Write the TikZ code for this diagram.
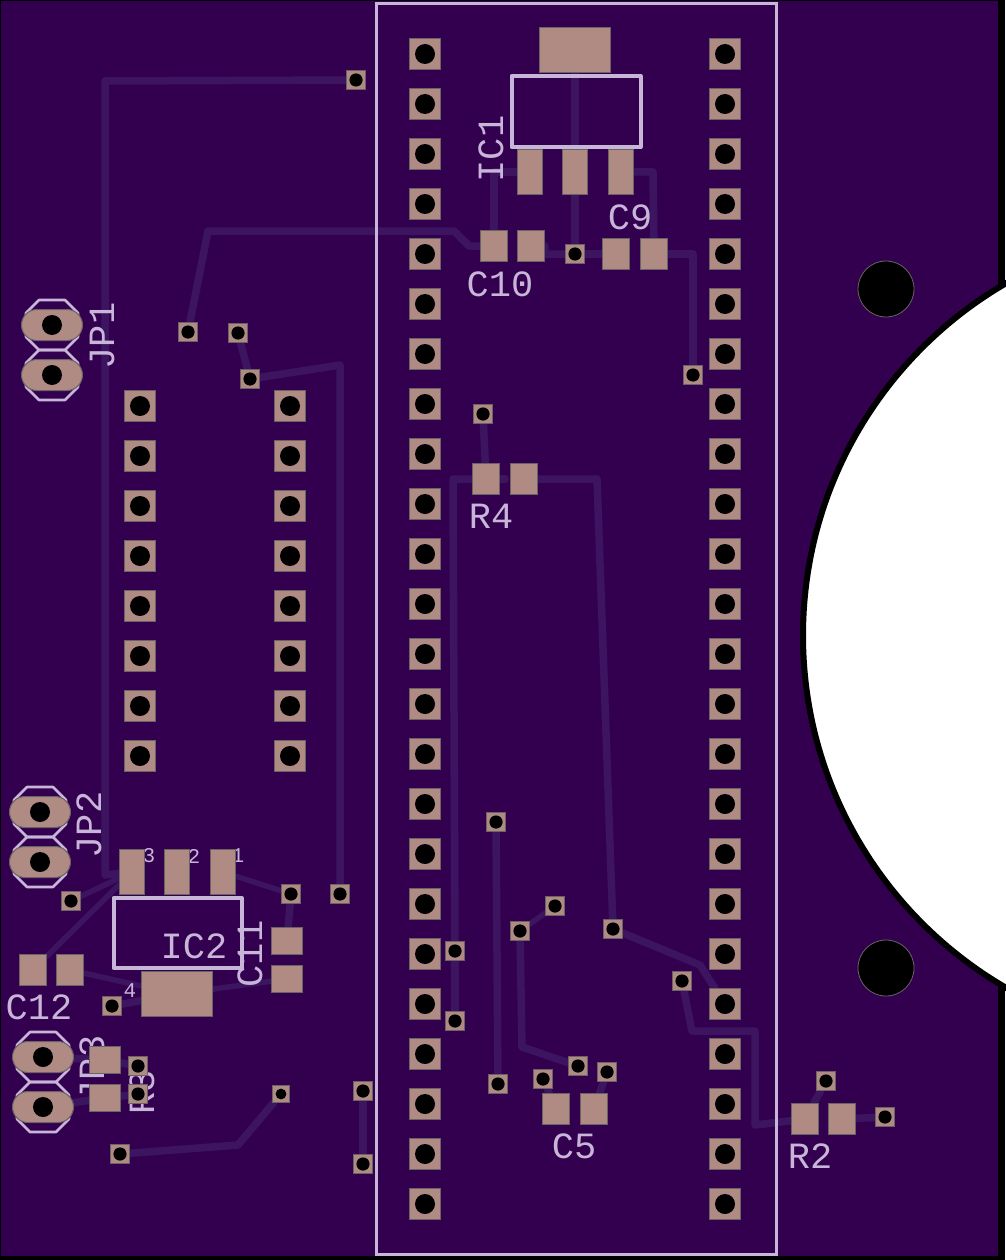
\documentclass[tikz,border=0pt]{standalone}
\usepackage{fontspec}
\setmonofont{Liberation Mono}
\usetikzlibrary{backgrounds, shapes.misc}
\definecolor{boardcol}{RGB}{51,0,80}
\definecolor{trackcol}{RGB}{60,20,96}
\definecolor{padcol}{RGB}{175,139,131}
\definecolor{edgecol}{RGB}{105,100,100}
\definecolor{silkcol}{RGB}{200,182,216}
\tikzstyle{thpad} = [rectangle, draw=edgecol, line width=1pt, fill=padcol, minimum size=31pt, inner sep=0, path picture={\fill[black] (path picture bounding box.center) circle (10);}]
\tikzstyle{via} = [rectangle, draw=edgecol, line width=1pt, fill=padcol, minimum size=19pt, inner sep=0, path picture={\fill[black] (path picture bounding box.center) circle (6.6);}]
\tikzstyle{smallvia} = [via, minimum size=17pt, path picture={\fill[black] (path picture bounding box.center) circle (5.4);}]
\tikzstyle{longpad} = [rounded rectangle, draw=edgecol, line width=1pt, fill=padcol, minimum width=61pt, minimum height=31pt, inner sep=0, path picture={\fill[black] (path picture bounding box.center) circle (10);}]
\tikzstyle{smd} = [rectangle, draw=edgecol, line width=1pt, fill=padcol, inner sep=0]
\tikzstyle{chipv} = [smd, minimum width=27pt, minimum height=31pt]
\tikzstyle{chiph} = [smd, minimum width=31pt, minimum height=27pt]
\tikzstyle{leg} = [smd, minimum width=25.5pt, minimum height=45pt]
\tikzstyle{tab} = [smd, minimum width=71pt, minimum height=45pt]
\tikzstyle{track} = [trackcol, line width=7.5pt, line cap=round, line join=round]
\tikzstyle{thintrack} = [track, line width=5.5pt]
\tikzstyle{silkline} = [silkcol, line width=2.6pt, line join=round]
\tikzstyle{silkbox} = [silkcol, line width=4pt, line join=round]
\tikzstyle{lbl} = [text=silkcol, inner sep=0, font=\ttfamily\fontsize{37}{37}\selectfont]
\tikzstyle{pinlbl} = [text=silkcol, inner sep=0, font=\ttfamily\fontsize{21}{21}\selectfont]
\tikzstyle{mounthole} = [circle, draw=edgecol, line width=0.8pt, fill=black, minimum size=56pt, inner sep=0]

\begin{document}
\begin{tikzpicture}[x=1pt, y=-1pt]
	\useasboundingbox (0,0) rectangle (1005,1260);

	\foreach \i in {1,...,24} {
		\node (hl\i) [thpad] at (425,4+50*\i) {};
		\node (hr\i) [thpad] at (725,4+50*\i) {};
	}
	\foreach \i in {1,...,8} {
		\node (dl\i) [thpad] at (140,356+50*\i) {};
		\node (dr\i) [thpad] at (290,356+50*\i) {};
	}
	\foreach \n/\x/\y in {va/356/80, vb/188/332, vc/238/333, vd/250/379, ve/693/375, vf/483/414, vg/575/254, vh/71/901, vi/291/894, vj/340/894, vk/112/1006, vl/138/1066, vm/138/1094, vn/120/1154, vo/363/1091, vp/363/1164, vq/555/906, vr/520/931, vs/613/929, vt/682/981, vu/578/1066, vv/543/1079, vw/607/1072, vx/498/1084, vy/826/1081, vz/885/1117, vaa/496/822, vab/455/951, vac/455/1021}
		\node (\n) [via] at (\x,\y) {};
	\node (vad) [smallvia] at (281,1094) {};

	\node (ic1_tab) [tab] at (575,50) {};
	\node (ic1_a) [leg] at (530,172) {};
	\node (ic1_b) [leg] at (575,172) {};
	\node (ic1_c) [leg] at (621,172) {};
	\node (ic2_tab) [tab] at (177,994) {};
	\node (ic2_a) [leg] at (132,872) {};
	\node (ic2_b) [leg] at (177,872) {};
	\node (ic2_c) [leg] at (223,872) {};
	\node (c10_a) [chipv] at (494,246) {};
	\node (c10_b) [chipv] at (531,246) {};
	\node (c9_a) [chipv] at (616,254) {};
	\node (c9_b) [chipv] at (654,254) {};
	\node (r4_a) [chipv] at (486,479) {};
	\node (r4_b) [chipv] at (524,479) {};
	\node (c12_a) [chipv] at (33,970) {};
	\node (c12_b) [chipv] at (70,970) {};
	\node (c5_a) [chipv] at (556,1109) {};
	\node (c5_b) [chipv] at (594,1109) {};
	\node (r2_a) [chipv] at (805,1119) {};
	\node (r2_b) [chipv] at (842,1119) {};
	\node (c11_a) [chiph] at (287,941) {};
	\node (c11_b) [chiph] at (287,979) {};
	\node (r3_a) [chiph] at (105,1060) {};
	\node (r3_b) [chiph] at (105,1098) {};

	\node (jp1_a) [longpad] at (52,325) {};
	\node (jp1_b) [longpad] at (52,375) {};
	\node (jp2_a) [longpad] at (40,812) {};
	\node (jp2_b) [longpad] at (40,862) {};
	\node (jp3_a) [longpad] at (43,1057) {};
	\node (jp3_b) [longpad] at (43,1107) {};

	\node (hole_top) [mounthole] at (886,289) {};
	\node (hole_bot) [mounthole] at (886,968) {};

	\coordinate (r4_stub) at (505,479);

	\begin{scope}[on background layer]
		\fill[black] (0,0) rectangle (1005,1260);
		\fill[boardcol] (1,1) rectangle (998,1256);
		\draw[black, fill=white, line width=6pt] (1210,635.5) circle (407);

		\draw[track] (va) -- (105,81) -- (105,875) -- (ic2_a);
		\draw[track] (vb) -- (208,231) -- (454,231) -- (469,246) -- (c10_a);
		\draw[track] (vc) -- (vd);
		\draw[track] (vd) -- (340,365) -- (vj);
		\draw[track] (ic1_a) -- (494,172) -- (c10_a);
		\draw[track] (ic1_tab) -- (vg);
		\draw[track] (c10_b.east) -- (544,254) -- (vg);
		\draw[track] (vg) -- (c9_a);
		\draw[track] (ic1_c) -- (653,172) -- (c9_b);
		\draw[track] (c9_b) -- (693,254) -- (ve);
		\draw[track] (vf) -- (r4_a);
		\draw[track] (r4_b) -- (597,479) -- (vs);
		\draw[track] (r4_a) -- (r4_stub);
		\draw[track] (r4_a) -- (453,479) -- (vab);
		\draw[track] (vab) -- (vac);
		\draw[track] (vaa) -- (vx);
		\draw[thintrack] (vq) -- (vr);
		\draw[track] (vr) -- (522,1047) -- (vu);
		\draw[track] (vs) -- (700,965) -- (hr20);
		\draw[track] (vt) -- (692,1031) -- (755,1031) -- (755,1125) -- (r2_a);
		\draw[track] (vv) -- (c5_a);
		\draw[track] (vw) -- (c5_b);
		\draw[track] (r2_a) -- (vy);
		\draw[track] (r2_b) -- (vz);
		\draw[thintrack] (ic2_c) -- (vi);
		\draw[track] (vi) -- (c11_a);
		\draw[thintrack] (vh) -- (ic2_a);
		\draw[thintrack] (c12_a) -- (ic2_a);
		\draw[thintrack] (c12_b) -- (ic2_tab);
		\draw[track] (vk) -- (ic2_tab);
		\draw[thintrack] (ic2_tab) -- (c11_b);
		\draw[track] (r3_a) -- (vl);
		\draw[track] (r3_b) -- (vm);
		\draw[track] (jp3_a) -- (r3_a);
		\draw[track] (jp3_b) -- (r3_b);
		\draw[track] (vad) -- (238,1145) -- (vn);
		\draw[track] (vo) -- (vp);

		\draw[silkcol, line width=3pt] (376,4) rectangle (776,1254);
		\draw[silkbox] (511.5,76) rectangle (640.5,147);
		\draw[silkbox] (113.5,898) rectangle (241.5,968);
		\foreach \x/\y in {52/325, 52/375, 40/812, 40/862, 43/1057, 43/1107}
			\draw[silkline] (\x-13,\y-25) -- (\x+13,\y-25) -- (\x+26,\y-12) -- (\x+26,\y+12) -- (\x+13,\y+25) -- (\x-13,\y+25) -- (\x-26,\y+12) -- (\x-26,\y-12) -- cycle;

		\node (txt_jp1) [lbl, rotate=90] at (102,336) {JP1};
		\node (txt_jp2) [lbl, rotate=90] at (89,825) {JP2};
		\node (txt_jp3) [lbl, rotate=90] at (92,1069) {JP3};
		\node (txt_ic1) [lbl, rotate=90] at (491,149) {IC1};
		\node (txt_ic2) [lbl] at (194,946) {IC2};
		\node (txt_c10) [lbl] at (500,284) {C10};
		\node (txt_c9) [lbl] at (630,217) {C9};
		\node (txt_c12) [lbl] at (39,1007) {C12};
		\node (txt_c11) [lbl, rotate=90] at (250,954) {C11};
		\node (txt_r3) [lbl, rotate=90] at (142,1092) {R3};
		\node (txt_r4) [lbl] at (491,516) {R4};
		\node (txt_c5) [lbl] at (574,1146) {C5};
		\node (txt_r2) [lbl] at (810,1156) {R2};
		\node (txt_pin3) [pinlbl] at (149,856) {3};
		\node (txt_pin2) [pinlbl] at (194,856) {2};
		\node (txt_pin1) [pinlbl] at (238,856) {1};
		\node (txt_pin4) [pinlbl] at (130,991) {4};
	\end{scope}
\end{tikzpicture}
\end{document}
